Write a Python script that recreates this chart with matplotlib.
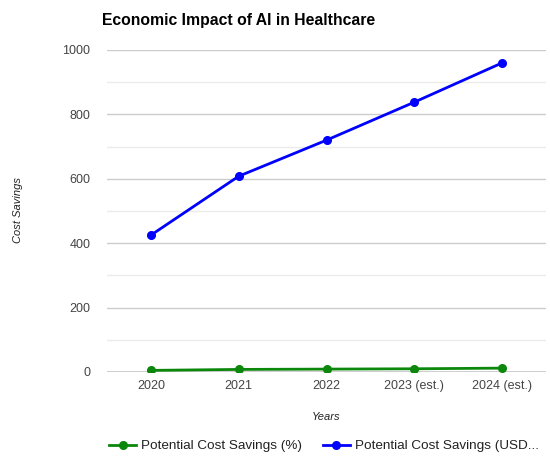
import matplotlib.pyplot as plt
from matplotlib.ticker import MultipleLocator

plt.rcParams["font.family"] = ["Liberation Sans", "DejaVu Sans"]

years = ["2020", "2021", "2022", "2023 (est.)", "2024 (est.)"]
savings_pct = [5, 8, 9, 10, 12]
savings_usd = [425, 608, 720, 838, 960]

fig = plt.figure(figsize=(5.5, 4.58), dpi=100)
ax = fig.add_axes([107 / 550, 1 - 372 / 458, (546 - 107) / 550, (372 - 50) / 458])

x = range(len(years))
ax.plot(x, savings_pct, color="#0b870b", marker="o", markersize=5.5, linewidth=2,
        label="Potential Cost Savings (%)", zorder=3)
ax.plot(x, savings_usd, color="#0000ff", marker="o", markersize=5.5, linewidth=2,
        label="Potential Cost Savings (USD...", zorder=3)

ax.set_xlim(-0.5, len(years) - 0.5)
ax.set_ylim(0, 1000)
ax.set_xticks(list(x))
ax.set_xticklabels(years)
ax.yaxis.set_major_locator(MultipleLocator(200))
ax.yaxis.set_minor_locator(MultipleLocator(100))
ax.grid(axis="y", which="major", color="#cccccc", linewidth=1)
ax.grid(axis="y", which="minor", color="#ebebeb", linewidth=1)
ax.axhline(0, color="#333333", linewidth=1, zorder=2)

for s in ax.spines.values():
    s.set_visible(False)
ax.tick_params(axis="both", which="both", length=0, labelsize=9, labelcolor="#444444")
ax.tick_params(axis="y", pad=12)
ax.tick_params(axis="x", pad=6)

ax.set_xlabel("Years", fontsize=8, style="italic", color="#222222", labelpad=14)
fig.text(18 / 550, 1 - 210 / 458, "Cost Savings", rotation=90, fontsize=8,
         style="italic", color="#222222", ha="center", va="center")
fig.text(102 / 550, 1 - 20 / 458, "Economic Impact of AI in Healthcare",
         fontsize=11.3, fontweight="bold", color="#000000", ha="left", va="center")

fig.legend(loc="center left", bbox_to_anchor=(97 / 550, 1 - 446 / 458), ncol=2,
           frameon=False, fontsize=9.7, handlelength=2.0, handletextpad=0.4,
           columnspacing=1.5, labelcolor="#222222")

fig.savefig("out.png", dpi=100)
